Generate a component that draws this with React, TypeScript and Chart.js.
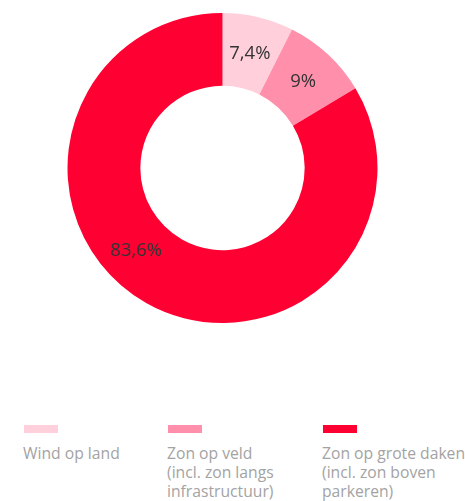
import React, { useEffect, useRef } from "react";
import { Chart, registerables } from "chart.js";

Chart.register(...registerables);

const categories: string[][] = [
  ["Wind op land"],
  ["Zon op veld", "(incl. zon langs", "infrastructuur)"],
  ["Zon op grote daken", "(incl. zon boven", "parkeren)"],
];
const values: number[] = [7.4, 9, 83.6];
const valueLabels: string[] = ["7,4%", "9%", "83,6%"];
const colors: string[] = ["#FFD0DC", "#FF8FAB", "#FF0033"];

const legendLefts = [24, 168, 323];
const labelAnchor = [0.5, 0.5, 0.557];

const labelPlugin = {
  id: "sliceLabels",
  afterDatasetsDraw(chart: any) {
    const ctx = chart.ctx;
    const meta = chart.getDatasetMeta(0);
    ctx.save();
    ctx.font = "18.5px 'Open Sans'";
    ctx.fillStyle = "#333333";
    ctx.textAlign = "center";
    ctx.textBaseline = "middle";
    meta.data.forEach((arc: any, i: number) => {
      const p = arc.getProps(["x", "y", "startAngle", "endAngle", "innerRadius", "outerRadius"], true);
      const a = p.startAngle + (p.endAngle - p.startAngle) * labelAnchor[i];
      const r = (p.innerRadius + p.outerRadius) / 2;
      ctx.fillText(valueLabels[i], p.x + Math.cos(a) * r, p.y + Math.sin(a) * r + 1);
    });
    ctx.restore();
  },
};

export default function App() {
  const ref = useRef<HTMLCanvasElement>(null);
  useEffect(() => {
    if (!ref.current) return;
    const chart = new Chart(ref.current, {
      type: "doughnut",
      data: {
        labels: categories.map((c) => c.join(" ")),
        datasets: [
          {
            data: values,
            backgroundColor: colors,
            borderWidth: 0,
            hoverOffset: 0,
          },
        ],
      },
      options: {
        animation: false,
        responsive: false,
        cutout: "53%",
        layout: { padding: { top: 13, bottom: 13, left: 0, right: 20 } },
        plugins: {
          legend: { display: false },
          tooltip: { enabled: false },
        },
      },
      plugins: [labelPlugin],
    });
    return () => chart.destroy();
  }, []);

  return (
    <div
      style={{
        position: "absolute",
        left: 0,
        top: 0,
        width: 465,
        height: 501,
        overflow: "hidden",
        background: "#fff",
        fontFamily: "'Open Sans', sans-serif",
      }}
    >
      <canvas ref={ref} width={465} height={336} style={{ position: "absolute", left: 0, top: 0 }} />
      {categories.map((lines, i) => (
        <div key={i} style={{ position: "absolute", left: legendLefts[i], top: 425 }}>
          <div style={{ width: 34, height: 8, background: colors[i] }} />
          <div
            style={{
              marginTop: 11,
              marginLeft: -1,
              fontSize: 15.7,
              lineHeight: "19px",
              color: "#a3a3a3",
              whiteSpace: "nowrap",
            }}
          >
            {lines.map((l, j) => (
              <div key={j}>{l}</div>
            ))}
          </div>
        </div>
      ))}
    </div>
  );
}
